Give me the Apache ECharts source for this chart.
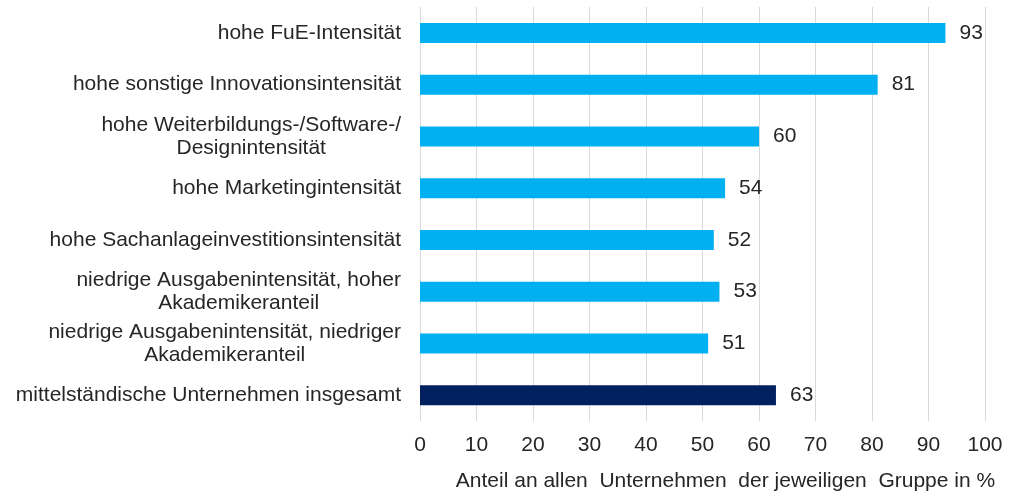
<!DOCTYPE html>
<html>
<head>
<meta charset="utf-8">
<script src="https://cdn.jsdelivr.net/npm/echarts@6/dist/echarts.min.js"></script>
<style>
  html, body { margin: 0; padding: 0; background: #fff; }
  #chart { width: 1009px; height: 497px; }
</style>
</head>
<body>
<div id="chart"></div>
<script>
const categories = [
  'hohe FuE-Intensität',
  'hohe sonstige Innovationsintensität',
  'hohe Weiterbildungs-/Software-/\nDesignintensität',
  'hohe Marketingintensität',
  'hohe Sachanlageinvestitionsintensität',
  'niedrige Ausgabenintensität, hoher\nAkademikeranteil',
  'niedrige Ausgabenintensität, niedriger\nAkademikeranteil',
  'mittelständische Unternehmen insgesamt'
]
const values = [93, 81, 60, 54, 52, 53, 51, 63]
const totalIndex = 7
const axisName = 'Anteil an allen  Unternehmen  der jeweiligen  Gruppe in %'

const lightBlue = '#00B0F0'
const navy = '#002060'
const textColor = '#262626'
const font = 'Liberation Sans, Arial, sans-serif'

const chart = echarts.init(document.getElementById('chart'))

chart.setOption({
  animation: false,
  grid: { left: 420, right: 24, top: 7, bottom: 69, containLabel: false },
  xAxis: {
    type: 'value',
    min: 0,
    max: 100,
    interval: 10,
    axisLine: { show: false },
    axisTick: { show: false },
    splitLine: { lineStyle: { color: '#D9D9D9', width: 1 } },
    axisLabel: { color: textColor, fontSize: 21, fontFamily: font, margin: 14 },
    name: axisName,
    nameLocation: 'middle',
    nameGap: 50,
    nameTextStyle: { color: textColor, fontSize: 21, fontFamily: font, padding: [0, 0, 0, 46] }
  },
  yAxis: {
    type: 'category',
    data: categories,
    inverse: true,
    axisLine: { show: false },
    axisTick: { show: false },
    axisLabel: {
      margin: 19,
      lineHeight: 23,
      formatter: v => v.split('\n').map(s => '{c|' + s + '}').join('\n'),
      rich: {
        c: { align: 'center', color: textColor, fontSize: 21, fontFamily: font, lineHeight: 23 }
      }
    }
  },
  series: [{
    type: 'bar',
    barWidth: 20,
    data: values.map((v, i) => ({
      value: v,
      itemStyle: { color: i === totalIndex ? navy : lightBlue }
    })),
    label: {
      show: true,
      position: 'right',
      distance: 14,
      color: textColor,
      fontSize: 21,
      fontFamily: font
    }
  }]
})
</script>
</body>
</html>
